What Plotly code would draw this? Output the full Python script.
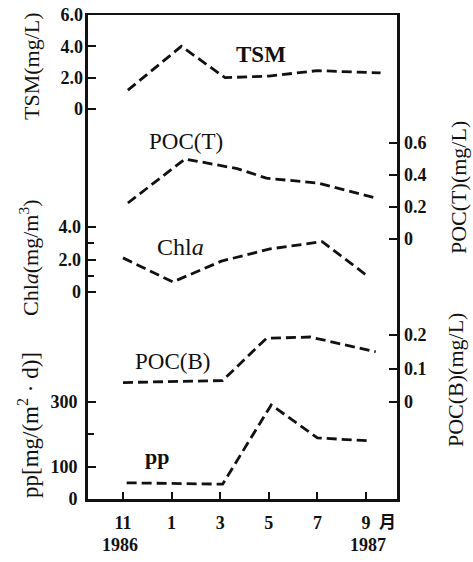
import plotly.graph_objects as go

# ---------------- data (month index: 0 = Nov 1986 ... 10 = Sep 1987) ----------------
tsm_x = [0.2, 2.4, 4.2, 6.0, 8.0, 10.6]
tsm_y = [1.2, 4.0, 2.0, 2.1, 2.45, 2.3]

poct_x = [0.2, 2.55, 4.7, 5.9, 8.0, 10.3]
poct_y = [0.225, 0.50, 0.44, 0.38, 0.35, 0.26]

chla_x = [0.0, 2.05, 4.05, 6.05, 8.2, 10.1]
chla_y = [2.1, 0.62, 1.9, 2.65, 3.1, 0.94]

pocb_x = [0.0, 4.1, 5.9, 7.7, 10.4]
pocb_y = [0.058, 0.064, 0.19, 0.194, 0.15]

pp_x = [0.15, 4.1, 6.1, 8.0, 10.1]
pp_y = [50, 46, 291, 189, 180]

month_ticks = [0, 2, 4, 6, 8, 10]
month_labels = ["11", "1", "3", "5", "7", "9"]

# ---------------- layout geometry ----------------
W, H = 473, 562
ML, MR, MT, MB = 88, 76, 15, 63
PX_L, PX_R = ML, W - MR
PY_T, PY_B = MT, H - MB


def yr(va, pa, vb, pb):
    k = (pa - pb) / (vb - va)
    return [va - (PY_B - pa) / k, va + (pa - PY_T) / k]


# x: month 0 at px 123, month 10 at px 366
kx = (366 - 123) / 10
x_range = [(PX_L - 123) / kx, (PX_R - 123) / kx]

def px(x):
    return (x - PX_L) / (PX_R - PX_L)

def py(y):
    return (PY_B - y) / (PY_B - PY_T)

FONT = "Liberation Serif"
LINE = dict(color="#111111", width=2.8, dash="10px,5px")
tickfont = dict(family=FONT, size=18, color="#111111", weight="bold")

fig = go.Figure()
fig.add_trace(go.Scatter(x=pp_x, y=pp_y, yaxis="y", mode="lines", line=LINE))
fig.add_trace(go.Scatter(x=tsm_x, y=tsm_y, yaxis="y2", mode="lines", line=LINE))
fig.add_trace(go.Scatter(x=chla_x, y=chla_y, yaxis="y3", mode="lines", line=LINE))
fig.add_trace(go.Scatter(x=poct_x, y=poct_y, yaxis="y4", mode="lines", line=LINE))
fig.add_trace(go.Scatter(x=pocb_x, y=pocb_y, yaxis="y5", mode="lines", line=LINE))

common = dict(showgrid=False, zeroline=False, ticks="inside", ticklen=8, tickwidth=2,
              tickcolor="#111111", tickfont=tickfont, fixedrange=True, automargin=False)

fig.update_layout(
    width=W, height=H, autosize=False,
    margin=dict(l=ML, r=MR, t=MT, b=MB, pad=0, autoexpand=False),
    paper_bgcolor="white", plot_bgcolor="white",
    showlegend=False, hovermode=False,
    xaxis=dict(range=x_range, tickmode="array", tickvals=month_ticks, ticktext=month_labels,
               showline=True, linecolor="#111111", linewidth=2.5, mirror=True,
               ticks="inside", ticklen=7, tickwidth=2, tickcolor="#111111", automargin=False,
               tickfont=tickfont, showgrid=False, zeroline=False, ticklabelstandoff=6,
               fixedrange=True),
    yaxis=dict(range=yr(0, 499, 300, 402), tickmode="array", tickvals=[0, 100, 300],
               ticktext=["0", "100", "300"],
               minor=dict(tickmode="array", tickvals=[200], ticks="inside", ticklen=6,
                          tickwidth=2, tickcolor="#111111"),
               showline=True, linecolor="#111111", linewidth=2.8, mirror=True,
               ticklabelstandoff=4, **common),
    yaxis2=dict(range=yr(0, 109, 6, 15), overlaying="y", anchor="x", side="left",
                tickmode="array", tickvals=[0, 2, 4, 6], ticktext=["0", "2.0", "4.0", "6.0"],
                showline=False, ticklabelstandoff=4, **common),
    yaxis3=dict(range=yr(0, 292, 4, 227), overlaying="y", anchor="x", side="left",
                tickmode="array", tickvals=[0, 2, 4], ticktext=["0", "2.0", "4.0"],
                minor=dict(tickmode="array", tickvals=[1, 3], ticks="inside", ticklen=6,
                           tickwidth=2, tickcolor="#111111"),
                showline=False, ticklabelstandoff=6, **common),
    yaxis4=dict(range=yr(0, 239, 0.6, 143), overlaying="y", anchor="x", side="right",
                tickmode="array", tickvals=[0, 0.2, 0.4, 0.6], ticktext=["0", "0.2", "0.4", "0.6"],
                showline=False, ticklabelstandoff=6, **common),
    yaxis5=dict(range=yr(0, 402, 0.2, 335), overlaying="y", anchor="x", side="right",
                tickmode="array", tickvals=[0, 0.1, 0.2], ticktext=["0", "0.1", "0.2"],
                showline=False, ticklabelstandoff=6, **common),
)

ann = []

def label(text, x, y, size=20, bold=False, angle=0):
    ann.append(dict(text=text, x=px(x), y=py(y), xref="paper", yref="paper",
                    showarrow=False, textangle=angle, xanchor="center", yanchor="middle",
                    font=dict(family=FONT, size=size, color="#111111",
                              weight="bold" if bold else "normal")))

# series labels
label("TSM", 261, 55, size=23, bold=True)
label("POC(T)", 186, 141, size=23)
label("Chl<i>a</i>", 180, 247, size=24)
label("POC(B)", 172, 361, size=23)
label("pp", 157, 456, size=22, bold=True)

# axis titles
label("TSM(mg/L)", 31, 66, size=22, angle=-90)
label("Chl<i>a</i>(mg/m<sup>3</sup>)", 29, 258, size=22, angle=-90)
label("pp[mg/(m<sup>2</sup> · d)]", 28, 425, size=23, angle=-90)
label("POC(T)(mg/L)", 458, 188, size=22, angle=-90)
label("POC(B)(mg/L)", 455, 380, size=22, angle=-90)

# years and month unit
label("1986", 120, 545, size=18, bold=True)
label("1987", 368, 545, size=18, bold=True)
ann.append(dict(text="月", x=px(387), y=py(520), xref="paper", yref="paper", showarrow=False,
                xanchor="center", yanchor="middle",
                font=dict(family="Noto Sans CJK SC", size=17, color="#111111", weight="bold")))

fig.update_layout(annotations=ann)
fig.write_html("out.html", config={"displayModeBar": False, "staticPlot": True},
               post_script="document.body.style.margin='0';document.body.style.overflow='hidden';")
